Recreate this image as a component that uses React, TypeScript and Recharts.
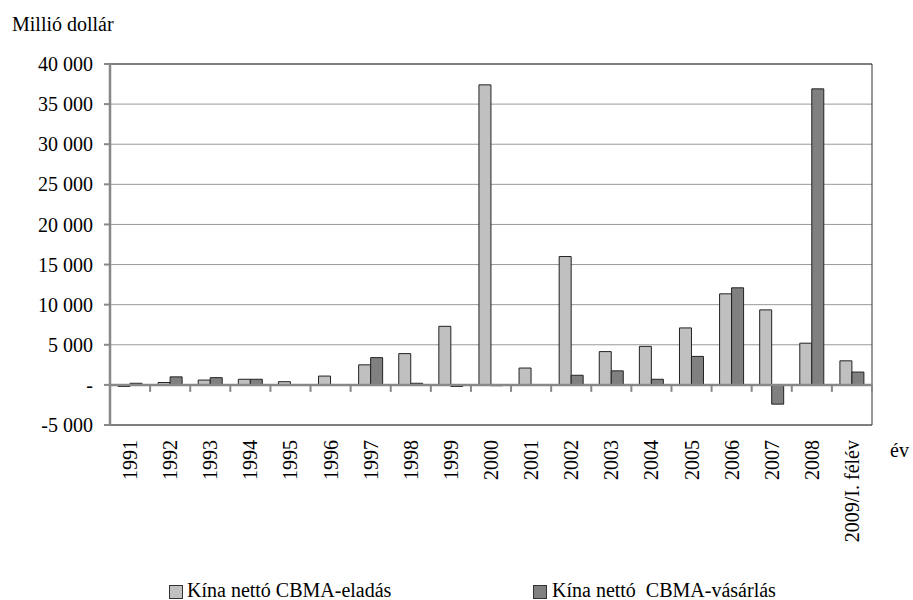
import { BarChart, Bar, XAxis, YAxis, CartesianGrid, ReferenceLine, ReferenceArea } from 'recharts';

const years = [
  '1991', '1992', '1993', '1994', '1995', '1996', '1997', '1998', '1999', '2000',
  '2001', '2002', '2003', '2004', '2005', '2006', '2007', '2008', '2009/I. félév',
];
// Kína nettó CBMA-eladás (millió dollár)
const eladas = [-200, 300, 600, 700, 400, 1100, 2500, 3900, 7300, 37400, 2100, 16000, 4150, 4800, 7100, 11350, 9350, 5200, 3000];
// Kína nettó CBMA-vásárlás (millió dollár)
const vasarlas = [200, 1000, 900, 700, 0, 0, 3400, 200, -200, -100, 0, 1200, 1750, 700, 3550, 12100, -2400, 36900, 1600];
const yTicks = [-5000, 0, 5000, 10000, 15000, 20000, 25000, 30000, 35000, 40000];

const seriesNames = ['Kína nettó CBMA-eladás', 'Kína nettó\u00a0 CBMA-vásárlás'];
const seriesColors = ['#c0c0c0', '#808080'];

const data = years.map((year, i) => ({ year, eladas: eladas[i], vasarlas: vasarlas[i] }));

const FONT = '"Liberation Serif", "Times New Roman", Times, "DejaVu Serif", serif';

function formatTick(v: number) {
  if (v === 0) return '-';
  const s = String(Math.abs(v)).replace(/\B(?=(\d{3})+(?!\d))/g, ' ');
  return (v < 0 ? '-' : '') + s;
}

function YearTick(props: any) {
  const { x, y, payload } = props;
  return (
    <text
      transform={`translate(${x},${y}) rotate(-90)`}
      textAnchor="end"
      dy="0.35em"
      fontSize={20}
      fontFamily={FONT}
      fill="#000"
    >
      {payload.value}
    </text>
  );
}

// zero axis line with category boundary tick marks
function ZeroAxis(props: any) {
  const { x1, y1, x2 } = props;
  const n = years.length;
  const step = (x2 - x1) / n;
  return (
    <g>
      <line x1={x1} y1={y1} x2={x2} y2={y1} stroke="#888" strokeWidth={2.5} />
      {Array.from({ length: n + 1 }, (_, i) => (
        <line key={i} x1={x1 + i * step} y1={y1} x2={x1 + i * step} y2={y1 + 7} stroke="#888" strokeWidth={2} />
      ))}
    </g>
  );
}

export default function App() {
  return (
    <div style={{ position: 'absolute', left: 0, top: 0, width: 913, height: 600, background: '#fff', fontFamily: FONT }}>
      <BarChart
        width={913}
        height={600}
        data={data}
        margin={{ top: 64, right: 41, bottom: 25, left: 0 }}
        barSize={12}
        barGap={0}
        style={{ fontFamily: FONT }}
      >
        <CartesianGrid vertical={false} stroke="#999" strokeWidth={1} />
        <ReferenceArea y1={-5000} y2={40000} fill="none" stroke="#333" strokeWidth={1} ifOverflow="visible" />
        <XAxis
          dataKey="year"
          interval={0}
          axisLine={false}
          tickLine={false}
          tickSize={8}
          tickMargin={7}
          height={150}
          tick={<YearTick />}
        />
        <YAxis
          domain={[-5000, 40000]}
          ticks={yTicks}
          width={110}
          tickFormatter={formatTick}
          axisLine={{ stroke: '#888', strokeWidth: 2.5 }}
          tickLine={{ stroke: '#888', strokeWidth: 2 }}
          tickSize={6}
          tickMargin={11}
          tick={{ fill: '#000', fontSize: 20, fontFamily: FONT }}
          interval={0}
        />
        <Bar dataKey="eladas" name={seriesNames[0]} fill={seriesColors[0]} stroke="#222" strokeWidth={1} isAnimationActive={false} />
        <Bar dataKey="vasarlas" name={seriesNames[1]} fill={seriesColors[1]} stroke="#222" strokeWidth={1} isAnimationActive={false} />
        <ReferenceLine y={0} shape={<ZeroAxis />} />
      </BarChart>

      <div style={{ position: 'absolute', left: 12, top: 14, fontSize: 20, lineHeight: '20px' }}>Millió dollár</div>
      <div style={{ position: 'absolute', left: 890, top: 440, fontSize: 20, lineHeight: '20px' }}>év</div>

      {[169, 533].map((left, i) => (
        <div key={i} style={{ position: 'absolute', left, top: 580, display: 'flex', alignItems: 'center', fontSize: 20, lineHeight: '20px' }}>
          <span style={{ width: 12, height: 12, marginTop: 4, background: seriesColors[i], border: '1px solid #333', display: 'inline-block' }} />
          <span style={{ marginLeft: i === 0 ? 4 : 5, whiteSpace: 'pre' }}>{seriesNames[i]}</span>
        </div>
      ))}
    </div>
  );
}
